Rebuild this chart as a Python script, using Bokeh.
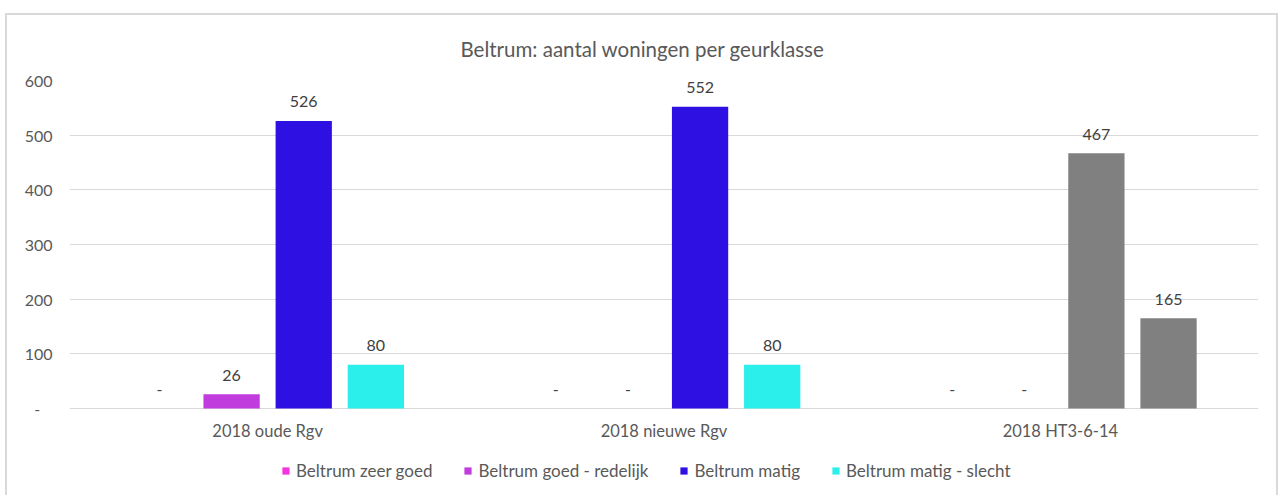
from bokeh.plotting import figure
from bokeh.models import (ColumnDataSource, FactorRange, Range1d, FixedTicker,
                          LabelSet, Legend, LegendItem)
from bokeh.transform import dodge
from bokeh.core.properties import value
from bokeh.embed import file_html
from bokeh.resources import INLINE

# ---- data ----
categories = ["2018 oude Rgv", "2018 nieuwe Rgv", "2018 HT3-6-14"]
series_names = ["Beltrum zeer goed", "Beltrum goed - redelijk",
                "Beltrum matig", "Beltrum matig - slecht"]
zeer_goed = [0, 0, 0]
goed_redelijk = [26, 0, 0]
matig = [526, 552, 467]
matig_slecht = [80, 80, 165]
y_ticks = [0, 100, 200, 300, 400, 500, 600]

# ---- style ----
series_values = [zeer_goed, goed_redelijk, matig, matig_slecht]
series_colors = ["#F533E0", "#C03CDC", "#2E10E3", "#2BEFEA"]
gray = "#808080"
offsets = [-0.273, -0.091, 0.091, 0.273]
bar_width = 0.142
FONT = "Lato"
FS = "16px"
AXIS_COLOR = "#595959"
LABEL_COLOR = "#404040"

# frame extends below zero so the legend area lies inside it
p = figure(x_range=FactorRange(*categories, range_padding=0),
           y_range=Range1d(-162.8, 600),
           width=1273, height=482, output_backend="svg", toolbar_location=None,
           min_border_left=62, min_border_right=22, min_border_top=64,
           min_border_bottom=0)
p.margin = (13, 0, 0, 5)
p.styles = {"border-top": "2px solid #D9D9D9", "border-left": "2px solid #D9D9D9",
            "border-right": "2px solid #D9D9D9"}

p.title.text = "Beltrum: aantal woningen per geurklasse"
p.title.align = "left"
p.title.offset = 391
p.title.text_font = FONT
p.title.text_font_size = "20.5px"
p.title.text_font_style = "normal"
p.title.text_color = AXIS_COLOR
p.title.standoff = 39

p.outline_line_color = None
p.xgrid.grid_line_color = None
p.ygrid.grid_line_color = "#D9D9D9"
p.ygrid.grid_line_width = 1

p.yaxis.ticker = FixedTicker(ticks=y_ticks)
p.yaxis.major_label_overrides = {0: "-\u00a0\u00a0\u00a0"}
p.yaxis.axis_line_color = None
p.yaxis.major_tick_line_color = None
p.yaxis.minor_tick_line_color = None
p.yaxis.major_tick_out = 0
p.yaxis.major_tick_in = 0
p.yaxis.minor_tick_out = 0
p.yaxis.major_label_standoff = 17
p.yaxis.major_label_text_font = FONT
p.yaxis.major_label_text_font_size = FS
p.yaxis.major_label_text_color = AXIS_COLOR

p.xaxis.visible = False

# category labels under the zero line
cat_src = ColumnDataSource(dict(cat=categories, y=[0] * len(categories)))
p.add_layout(LabelSet(x="cat", y="y", text="cat", source=cat_src, y_offset=-22,
                      text_align="center", text_baseline="middle",
                      text_font=value(FONT), text_font_size="16.5px",
                      text_color=AXIS_COLOR))

items = []
for name, vals, col, off in zip(series_names, series_values, series_colors, offsets):
    colors = [col, col, gray]
    labels = ["-" if v == 0 else str(v) for v in vals]
    src = ColumnDataSource(dict(cat=categories, val=vals, color=colors, lab=labels))
    r = p.vbar(x=dodge("cat", off, range=p.x_range), top="val", width=bar_width,
               source=src, fill_color="color", line_color=None)
    items.append(LegendItem(label=name, renderers=[r], index=0))
    ls = LabelSet(x=dodge("cat", off, range=p.x_range), y="val", text="lab",
                  source=src, y_offset=19, text_align="center",
                  text_baseline="middle", text_font=value(FONT),
                  text_font_size=FS, text_color=LABEL_COLOR)
    p.add_layout(ls)

legend = Legend(items=items, orientation="horizontal", location=(212, 16),
                glyph_width=9, glyph_height=9, label_standoff=6, spacing=31,
                padding=0, margin=0, border_line_color=None,
                background_fill_alpha=0,
                label_text_font=FONT, label_text_font_size="17px",
                label_text_color=AXIS_COLOR)
p.add_layout(legend)

open("out.html", "w").write(file_html(p, INLINE))
